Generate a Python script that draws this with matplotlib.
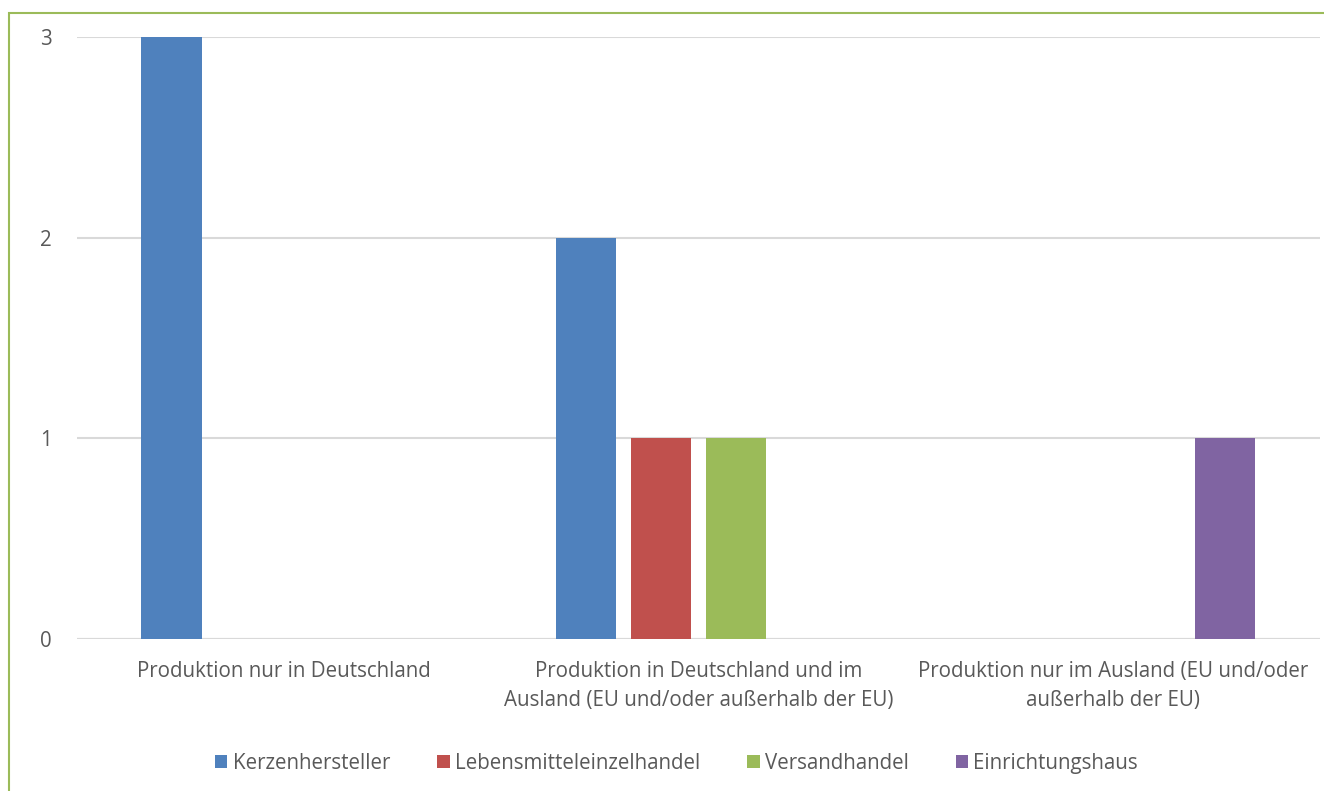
import numpy as np
import matplotlib.pyplot as plt
from matplotlib.patches import Rectangle

# Categories and counts per company type
categories = [
    'Produktion nur in Deutschland',
    'Produktion in Deutschland und im\nAusland (EU und/oder außerhalb der EU)',
    'Produktion nur im Ausland (EU und/oder\naußerhalb der EU)',
]
series_names = ['Kerzenhersteller', 'Lebensmitteleinzelhandel', 'Versandhandel', 'Einrichtungshaus']
kerzenhersteller = [3, 2, 0]
lebensmittel = [0, 1, 0]
versandhandel = [0, 1, 0]
einrichtungshaus = [0, 0, 1]
colors = ['#4F81BD', '#C0504D', '#9BBB59', '#8064A2']

plt.rcParams['font.family'] = ['Open Sans', 'DejaVu Sans']
text_color = '#595959'
fs = 14.8

fig = plt.figure(figsize=(13.24, 7.91), dpi=100)
ax = fig.add_axes([0.058, 0.192, 0.939, 0.761])

x = np.arange(len(categories))
width = 0.145
step = 0.181
all_series = [kerzenhersteller, lebensmittel, versandhandel, einrichtungshaus]
for i, (name, vals, c) in enumerate(zip(series_names, all_series, colors)):
    ax.bar(x + (i - 1.5) * step, vals, width, color=c, label=name, zorder=3)

ax.set_xlim(-0.5, 2.5)
ax.set_ylim(0, 3)
ax.set_yticks([0, 1, 2, 3])
ax.yaxis.grid(True, color='#D9D9D9', linewidth=1.5, zorder=0)
ax.set_axisbelow(True)
for s in ax.spines.values():
    s.set_visible(False)
ax.axhline(0, color='#D9D9D9', linewidth=1.5, zorder=1)
ax.set_xticks(x)
ax.set_xticklabels(categories, fontsize=fs, color=text_color, linespacing=1.45)
ax.tick_params(axis='x', length=0, pad=16)
ax.tick_params(axis='y', length=0, pad=18, labelsize=fs, labelcolor=text_color)

leg = fig.legend(loc='center', bbox_to_anchor=(0.511, 0.035), ncol=4, frameon=False,
                 fontsize=fs, handlelength=0.6, handleheight=0.6, handletextpad=0.25,
                 columnspacing=2.3)
for t in leg.get_texts():
    t.set_color(text_color)

# Outer chart border (green)
fig.patches.append(Rectangle((8.5 / 1324, -0.1), 1.2, 1 - 12.5 / 791 + 0.1,
                             transform=fig.transFigure, fill=False,
                             edgecolor='#9BBB59', linewidth=1.5))

fig.savefig('out.png', dpi=100)
